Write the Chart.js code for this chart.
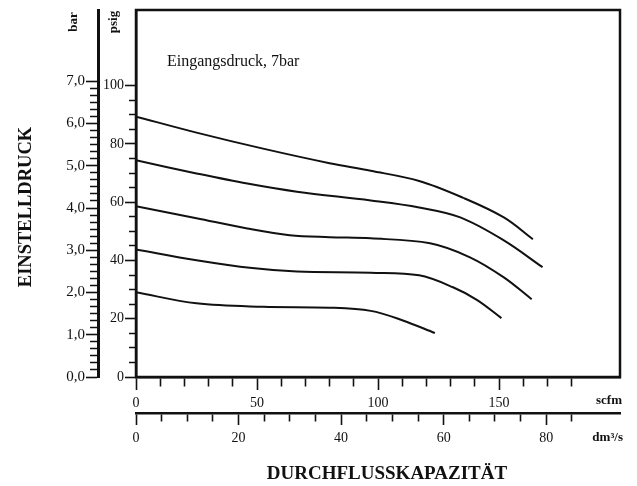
<!DOCTYPE html>
<html><head><meta charset="utf-8">
<script src="https://cdn.jsdelivr.net/npm/chart.js@4.4.0/dist/chart.umd.min.js"></script>
<style>html,body{margin:0;padding:0;background:#fff;}</style>
</head><body>
<canvas id="c" width="637" height="486"></canvas>
<script>
// ---- data (x in scfm, y in psig) ----
const curve1Scfm = [0, 25, 52.5, 80, 97, 117, 135, 152, 164];
const curve1Psig = [89.4, 83.9, 78.4, 73.4, 70.8, 67.3, 61.6, 54.8, 47.3];
const curve2Scfm = [0, 25, 46, 66.5, 97, 117, 134, 152, 168];
const curve2Psig = [74.4, 69.9, 66.4, 63.6, 60.6, 58.2, 54.8, 46.9, 37.7];
const curve3Scfm = [0, 25, 46, 63.5, 80, 97, 121.5, 138, 152, 163.5];
const curve3Psig = [58.6, 54.5, 51.0, 48.7, 48.0, 47.6, 45.9, 41.1, 34.2, 26.7];
const curve4Scfm = [0, 25, 48, 66.5, 97, 117, 131, 141, 151];
const curve4Psig = [43.8, 40.1, 37.4, 36.2, 35.8, 34.9, 30.8, 26.4, 20.2];
const curve5Scfm = [0, 25, 52.5, 80, 97, 110, 123.5];
const curve5Psig = [29.1, 25.3, 24.1, 23.8, 22.7, 19.5, 15.1];

// ---- tick labels ----
const scfmLabels = [0, 50, 100, 150];
const dm3sLabels = [0, 20, 40, 60, 80];
const psigLabels = [0, 20, 40, 60, 80, 100];
const barLabels = ['0,0', '1,0', '2,0', '3,0', '4,0', '5,0', '6,0', '7,0'];

const annotation = 'Eingangsdruck, 7bar';
const yTitle = 'EINSTELLDRUCK';
const xTitle = 'DURCHFLUSSKAPAZITÄT';

// ---- scale ranges / conversions ----
const PSI_PER_BAR = 14.5038;
const DM3S_PER_SCFM = 0.471947;
const psigMax = 126;
const scfmMax = 200;

const INK = '#111111';
Chart.defaults.font.family = "'Liberation Serif', 'Times New Roman', serif";
Chart.defaults.color = INK;

function tickList(step, max) {
  const a = [];
  for (let i = 0; i * step <= max + 1e-9; i++) a.push(+(i * step).toFixed(6));
  return a;
}
const near = (a, b) => Math.abs(a - b) < 1e-6;

function gridFor(len, minorLen, isMajor, outerFirst) {
  return {
    display: true, drawOnChartArea: false, drawTicks: true,
    tickLength: len, tickWidth: 1.6, tickColor: INK, lineWidth: 1,
    tickBorderDash: ctx => {
      if (ctx.tick && isMajor(ctx.tick.value)) return [];
      return outerFirst ? [0, len - minorLen, minorLen, 300] : [minorLen, 300];
    }
  };
}

const mk = (xs, ys) => xs.map((x, i) => ({x, y: ys[i]}));
const lineStyle = {borderColor: INK, borderWidth: 2, pointRadius: 0, tension: 0.35, fill: false};

const textPlugin = {
  id: 'texts',
  afterDraw(chart) {
    const {ctx, chartArea: a} = chart;
    ctx.save();
    ctx.strokeStyle = INK; ctx.lineWidth = 2.5;
    ctx.strokeRect(a.left, a.top, a.right - a.left, a.bottom - a.top);
    ctx.fillStyle = INK;
    // annotation
    ctx.font = "16px 'Liberation Serif'";
    ctx.textAlign = 'left'; ctx.textBaseline = 'middle';
    ctx.fillText(annotation, 167, 62);
    // unit labels on bottom axes
    ctx.font = "bold 13px 'Liberation Serif'";
    ctx.textAlign = 'right';
    ctx.fillText('scfm', 622, 401);
    ctx.fillText('dm³/s', 623, 438);
    // rotated unit labels
    const rot = (txt, x, y, font) => {
      ctx.save(); ctx.translate(x, y); ctx.rotate(-Math.PI / 2);
      ctx.font = font; ctx.textAlign = 'center'; ctx.textBaseline = 'middle';
      ctx.fillText(txt, 0, 0); ctx.restore();
    };
    rot('bar', 74, 22, "bold 13px 'Liberation Serif'");
    rot('psig', 114, 22, "bold 13px 'Liberation Serif'");
    rot(yTitle, 26, 207, "bold 18.5px 'Liberation Serif'");
    // x title
    ctx.font = "bold 19px 'Liberation Serif'";
    ctx.textAlign = 'center'; ctx.textBaseline = 'middle';
    ctx.fillText(xTitle, 387, 474);
    ctx.restore();
  }
};

new Chart(document.getElementById('c'), {
  type: 'line',
  data: {
    datasets: [
      Object.assign({label: 'c1', data: mk(curve1Scfm, curve1Psig)}, lineStyle),
      Object.assign({label: 'c2', data: mk(curve2Scfm, curve2Psig)}, lineStyle),
      Object.assign({label: 'c3', data: mk(curve3Scfm, curve3Psig)}, lineStyle),
      Object.assign({label: 'c4', data: mk(curve4Scfm, curve4Psig)}, lineStyle),
      Object.assign({label: 'c5', data: mk(curve5Scfm, curve5Psig)}, lineStyle)
    ]
  },
  options: {
    responsive: false, devicePixelRatio: 1, animation: false,
    layout: {padding: {top: 9, right: 17, left: 0, bottom: 0}},
    plugins: {legend: {display: false}, tooltip: {enabled: false}},
    scales: {
      y: {
        type: 'linear', position: 'left', min: 0, max: psigMax,
        afterBuildTicks: s => { s.ticks = tickList(5, 100).map(v => ({value: v})); },
        afterFit: s => { s.width = 38; },
        border: {display: true, color: INK, width: 2.5},
        grid: gridFor(11, 7, v => psigLabels.some(l => near(l, v)), true),
        ticks: {autoSkip: false, maxRotation: 0, padding: 1, font: {size: 14}, color: INK,
          callback: v => psigLabels.some(l => near(l, v)) ? String(v) : ''}
      },
      y2: {
        type: 'linear', position: 'left', min: 0, max: psigMax / PSI_PER_BAR,
        afterBuildTicks: s => { s.ticks = tickList(1 / 6, 7).map(v => ({value: v})); },
        afterFit: s => { s.width = 98; },
        border: {display: true, color: INK, width: 3},
        grid: gridFor(12, 8, v => near(v, Math.round(v)), true),
        ticks: {autoSkip: false, maxRotation: 0, padding: 1, font: {size: 15}, color: INK,
          callback: v => near(v, Math.round(v)) ? barLabels[Math.round(v)] : ''}
      },
      x: {
        type: 'linear', position: 'bottom', min: 0, max: scfmMax,
        afterBuildTicks: s => { s.ticks = tickList(10, 180).map(v => ({value: v})); },
        afterFit: s => { s.height = 36; },
        border: {display: true, color: INK, width: 2.5},
        grid: gridFor(13, 8, v => scfmLabels.some(l => near(l, v)), false),
        ticks: {autoSkip: false, maxRotation: 0, padding: 5, font: {size: 14}, color: INK,
          callback: v => scfmLabels.some(l => near(l, v)) ? String(v) : ''}
      },
      x2: {
        type: 'linear', position: 'bottom', min: 0, max: scfmMax * DM3S_PER_SCFM,
        afterBuildTicks: s => { s.ticks = tickList(5, 85).map(v => ({value: v})); },
        afterFit: s => { s.height = 73; },
        border: {display: true, color: INK, width: 2.5},
        grid: gridFor(12, 7, v => dm3sLabels.some(l => near(l, v)), false),
        ticks: {autoSkip: false, maxRotation: 0, padding: 5, font: {size: 14}, color: INK,
          callback: v => dm3sLabels.some(l => near(l, v)) ? String(v) : ''}
      }
    }
  },
  plugins: [textPlugin]
});
</script>
</body></html>
